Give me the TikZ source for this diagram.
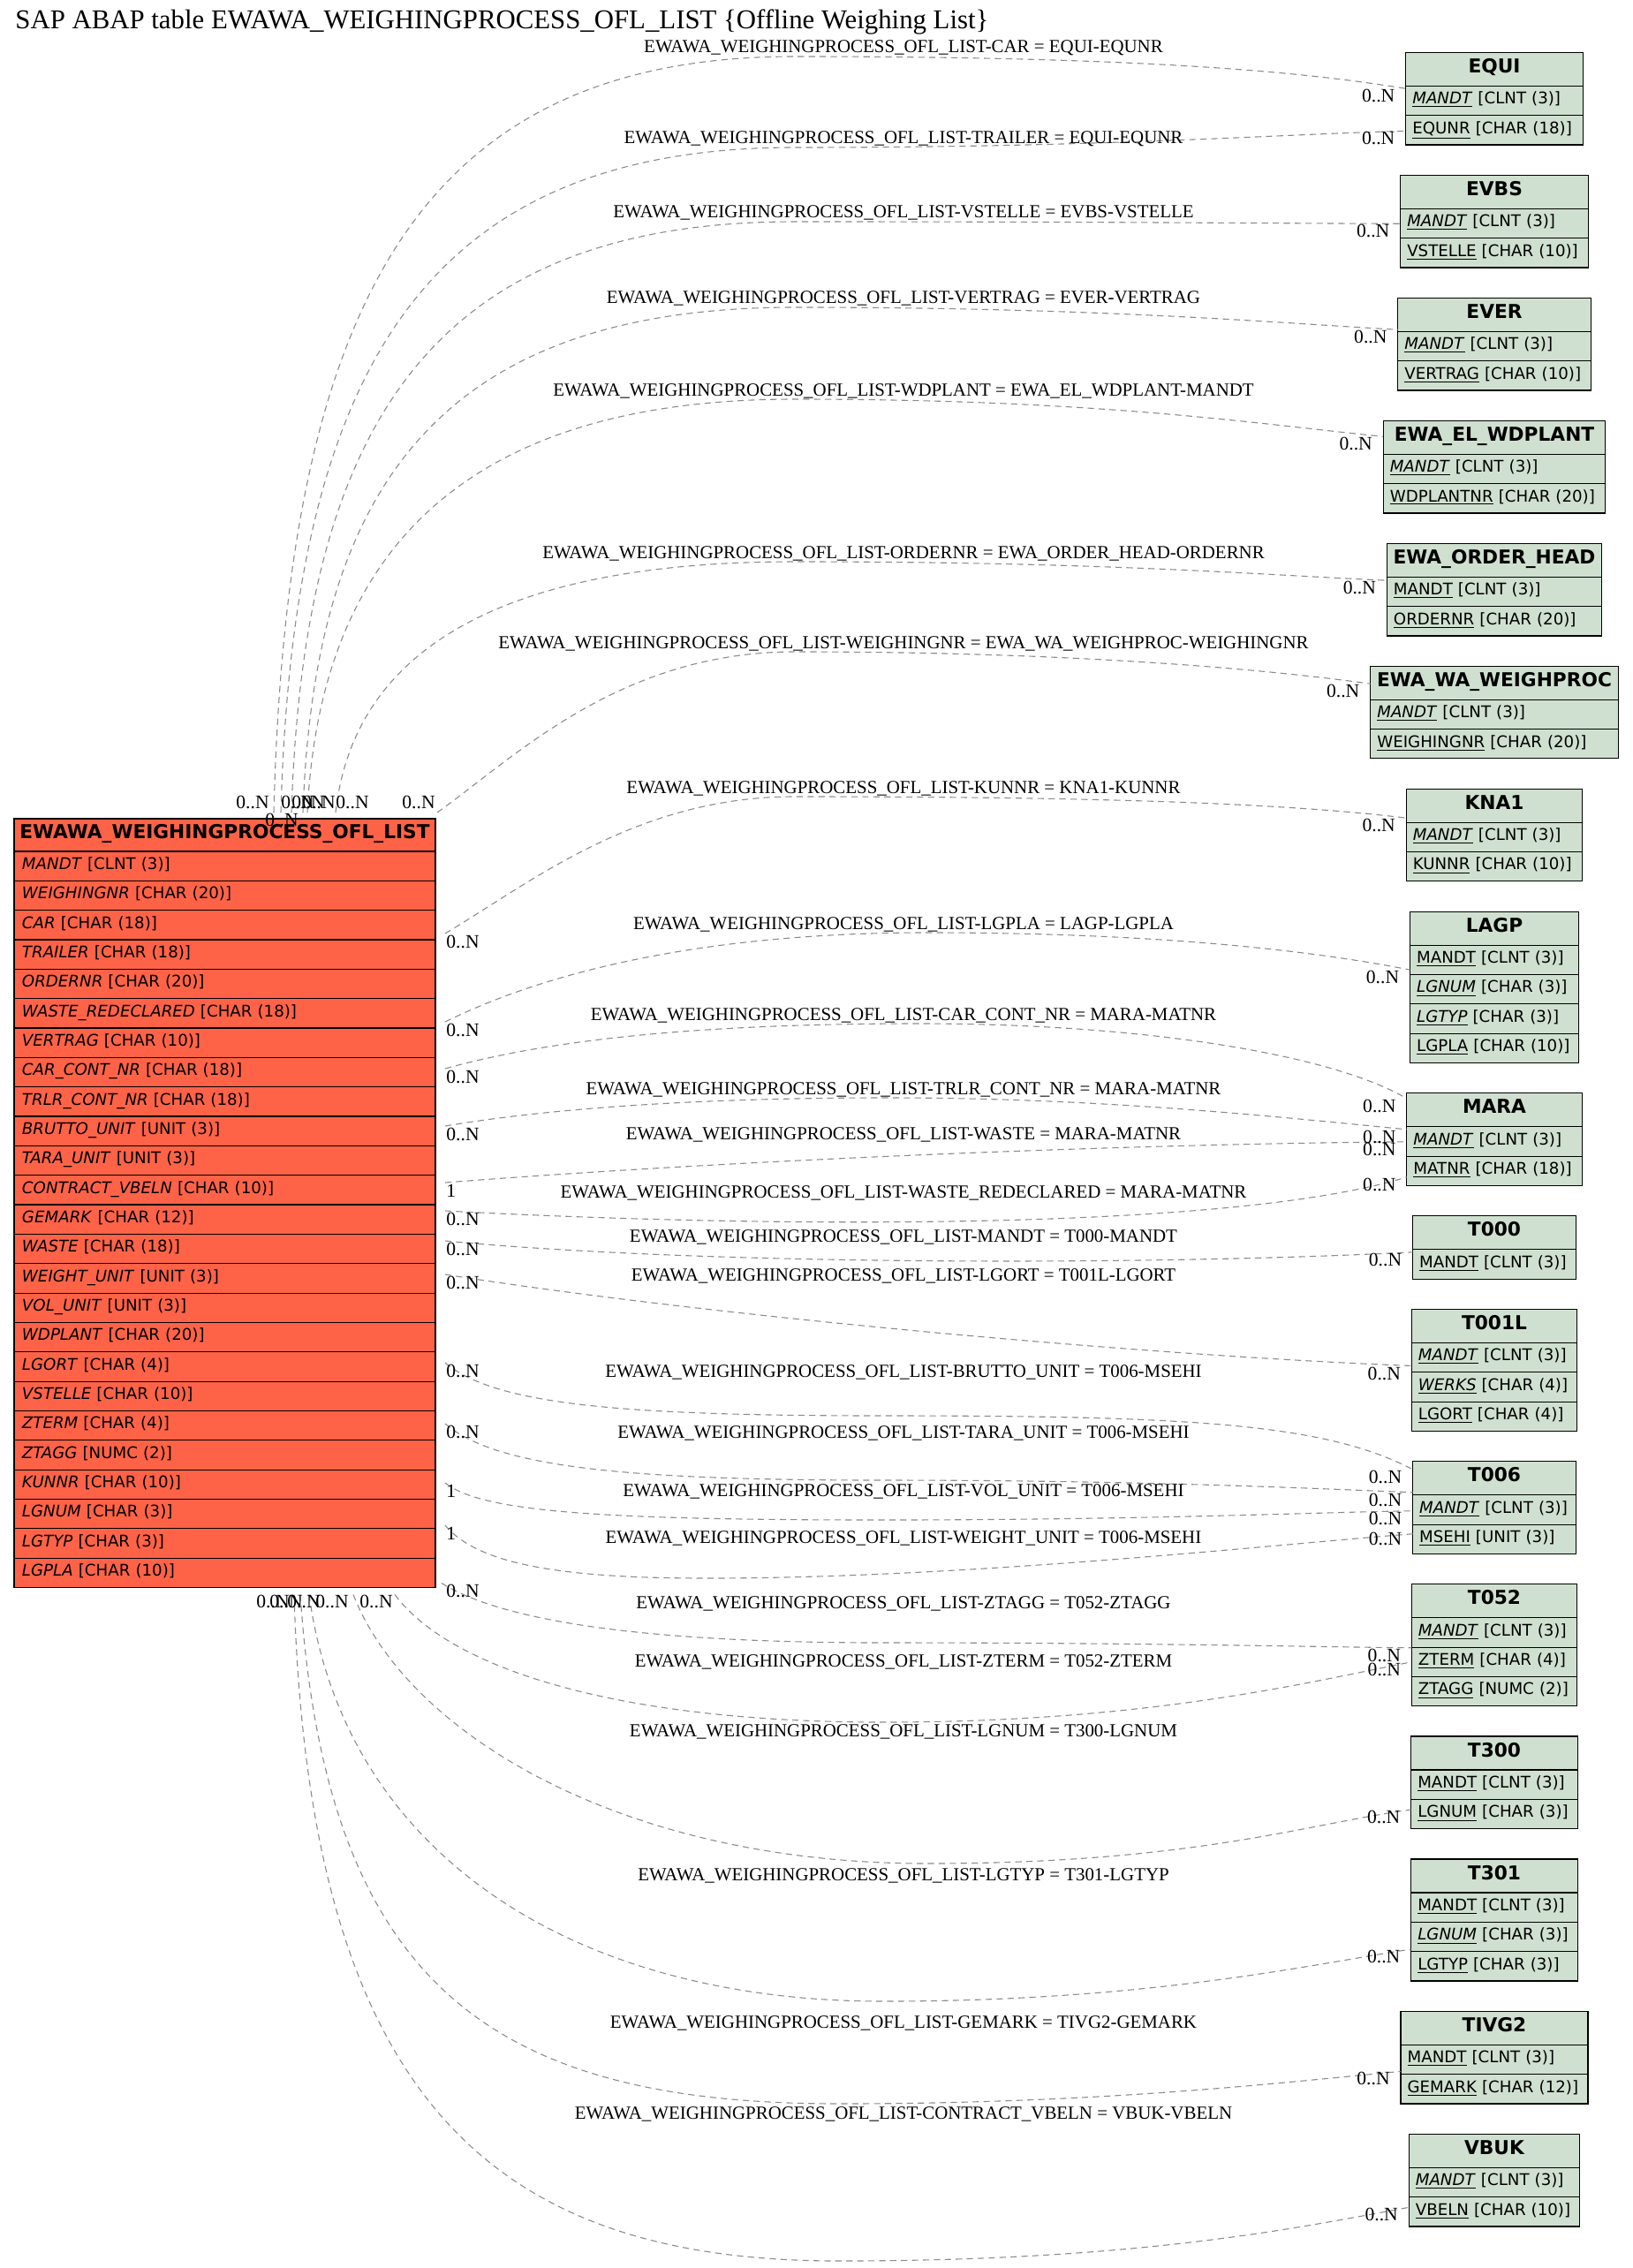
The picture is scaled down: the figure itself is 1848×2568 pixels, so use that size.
\documentclass[tikz,border=0pt]{standalone}
\usepackage{fontspec}
\setmainfont{Liberation Serif}
\newfontfamily\tabfont{DejaVu Sans}[ItalicFont={DejaVu Sans Oblique}, BoldFont={DejaVu Sans Bold}, BoldItalicFont={DejaVu Sans Bold Oblique}]
\usepackage{tikz}
\usetikzlibrary{calc, positioning}

\definecolor{mainred}{HTML}{FF6347}
\definecolor{sapgreen}{HTML}{D0E0D0}
\newcommand{\pk}[1]{\underline{#1}}
\newcommand{\srctab}{EWAWA\_WEIGHINGPROCESS\_OFL\_LIST}

\tikzset{
    thead/.style={rectangle, draw=black, line width=0.6pt, fill=sapgreen, outer sep=0pt, inner sep=0pt, minimum width=#1, minimum height=19pt, text height=8pt, text depth=4pt, font=\tabfont\bfseries\fontsize{10.85}{13}\selectfont},
    tfield/.style={rectangle, draw=black, line width=0.6pt, fill=sapgreen, outer sep=0pt, inner xsep=3.8pt, inner ysep=0pt, text width=#1, align=left, minimum height=16.67pt, text height=6.8pt, text depth=3pt, font=\tabfont\fontsize{9.1}{11}\selectfont},
    mhead/.style={thead=238.5pt, fill=mainred, minimum height=18.5pt},
    mfield/.style={tfield=229.5pt, fill=mainred, inner xsep=4.5pt},
    rel/.style={draw=gray!90, line width=0.55pt, dash pattern=on 3.6pt off 2.6pt},
    rlabel/.style={inner sep=0pt, text height=7pt, text depth=0pt, font=\fontsize{10.45}{12}\selectfont},
    card/.style={inner sep=0pt, text height=7.1pt, text depth=0pt, font=\fontsize{10.8}{12}\selectfont}
}

\begin{document}
\begin{tikzpicture}[x=0.5pt, y=-0.5pt]
    \useasboundingbox (0,0) rectangle (1848,2568);

    % Title
    \node[anchor=base west, inner sep=0pt, font=\fontsize{15.4}{18}\selectfont] (title) at (17,32.7) {SAP ABAP table EWAWA\_WEIGHINGPROCESS\_OFL\_LIST \{Offline Weighing List\}};

    % Main table
    \node[mhead, anchor=north west] (ofl-0) at (16,927) {EWAWA\_WEIGHINGPROCESS\_OFL\_LIST};
    \foreach \f/\t [count=\i, remember=\i as \j (initially 0)] in {MANDT/CLNT (3), WEIGHINGNR/CHAR (20), CAR/CHAR (18), TRAILER/CHAR (18), ORDERNR/CHAR (20), WASTE\_REDECLARED/CHAR (18), VERTRAG/CHAR (10), CAR\_CONT\_NR/CHAR (18), TRLR\_CONT\_NR/CHAR (18), BRUTTO\_UNIT/UNIT (3), TARA\_UNIT/UNIT (3), CONTRACT\_VBELN/CHAR (10), GEMARK/CHAR (12), WASTE/CHAR (18), WEIGHT\_UNIT/UNIT (3), VOL\_UNIT/UNIT (3), WDPLANT/CHAR (20), LGORT/CHAR (4), VSTELLE/CHAR (10), ZTERM/CHAR (4), ZTAGG/NUMC (2), KUNNR/CHAR (10), LGNUM/CHAR (3), LGTYP/CHAR (3), LGPLA/CHAR (10)}
        \node[mfield, below=0pt of ofl-\j] (ofl-\i) {\textit{\f} [\t]};

    % Check tables
    \node[thead=100.3pt, anchor=north] (equi) at (1692,59.3) {EQUI};
    \node[tfield=92.7pt, below=0pt of equi] (equi-1) {\pk{\textit{MANDT}} [CLNT (3)]};
    \node[tfield=92.7pt, below=0pt of equi-1] (equi-2) {\pk{EQUNR} [CHAR (18)]};

    \node[thead=106.35pt, below=17.15pt of equi-2] (evbs) {EVBS};
    \node[tfield=98.75pt, below=0pt of evbs] (evbs-1) {\pk{\textit{MANDT}} [CLNT (3)]};
    \node[tfield=98.75pt, below=0pt of evbs-1] (evbs-2) {\pk{VSTELLE} [CHAR (10)]};

    \node[thead=109.2pt, below=17.15pt of evbs-2] (ever) {EVER};
    \node[tfield=101.6pt, below=0pt of ever] (ever-1) {\pk{\textit{MANDT}} [CLNT (3)]};
    \node[tfield=101.6pt, below=0pt of ever-1] (ever-2) {\pk{VERTRAG} [CHAR (10)]};

    \node[thead=125.85pt, below=17.15pt of ever-2] (wdplant) {EWA\_EL\_WDPLANT};
    \node[tfield=118.25pt, below=0pt of wdplant] (wdplant-1) {\pk{\textit{MANDT}} [CLNT (3)]};
    \node[tfield=118.25pt, below=0pt of wdplant-1] (wdplant-2) {\pk{WDPLANTNR} [CHAR (20)]};

    \node[thead=121.65pt, below=17.15pt of wdplant-2] (ohead) {EWA\_ORDER\_HEAD};
    \node[tfield=114.05pt, below=0pt of ohead] (ohead-1) {\pk{MANDT} [CLNT (3)]};
    \node[tfield=114.05pt, below=0pt of ohead-1] (ohead-2) {\pk{ORDERNR} [CHAR (20)]};

    \node[thead=140.3pt, below=17.15pt of ohead-2] (wproc) {EWA\_WA\_WEIGHPROC};
    \node[tfield=132.7pt, below=0pt of wproc] (wproc-1) {\pk{\textit{MANDT}} [CLNT (3)]};
    \node[tfield=132.7pt, below=0pt of wproc-1] (wproc-2) {\pk{WEIGHINGNR} [CHAR (20)]};

    \node[thead=99.8pt, below=17.15pt of wproc-2] (kna1) {KNA1};
    \node[tfield=92.2pt, below=0pt of kna1] (kna1-1) {\pk{\textit{MANDT}} [CLNT (3)]};
    \node[tfield=92.2pt, below=0pt of kna1-1] (kna1-2) {\pk{KUNNR} [CHAR (10)]};

    \node[thead=95.5pt, below=17.15pt of kna1-2] (lagp) {LAGP};
    \node[tfield=87.9pt, below=0pt of lagp] (lagp-1) {\pk{MANDT} [CLNT (3)]};
    \node[tfield=87.9pt, below=0pt of lagp-1] (lagp-2) {\pk{\textit{LGNUM}} [CHAR (3)]};
    \node[tfield=87.9pt, below=0pt of lagp-2] (lagp-3) {\pk{\textit{LGTYP}} [CHAR (3)]};
    \node[tfield=87.9pt, below=0pt of lagp-3] (lagp-4) {\pk{LGPLA} [CHAR (10)]};

    \node[thead=99.2pt, below=17.15pt of lagp-4] (mara) {MARA};
    \node[tfield=91.6pt, below=0pt of mara] (mara-1) {\pk{\textit{MANDT}} [CLNT (3)]};
    \node[tfield=91.6pt, below=0pt of mara-1] (mara-2) {\pk{MATNR} [CHAR~(18)]};

    \node[thead=92.5pt, below=17.15pt of mara-2] (t000) {T000};
    \node[tfield=84.9pt, below=0pt of t000] (t000-1) {\pk{MANDT} [CLNT (3)]};

    \node[thead=93.7pt, below=17.15pt of t000-1] (t001l) {T001L};
    \node[tfield=86.1pt, below=0pt of t001l] (t001l-1) {\pk{\textit{MANDT}} [CLNT (3)]};
    \node[tfield=86.1pt, below=0pt of t001l-1] (t001l-2) {\pk{\textit{WERKS}} [CHAR (4)]};
    \node[tfield=86.1pt, below=0pt of t001l-2] (t001l-3) {\pk{LGORT} [CHAR (4)]};

    \node[thead=92.5pt, below=17.15pt of t001l-3] (t006) {T006};
    \node[tfield=84.9pt, below=0pt of t006] (t006-1) {\pk{\textit{MANDT}} [CLNT (3)]};
    \node[tfield=84.9pt, below=0pt of t006-1] (t006-2) {\pk{MSEHI} [UNIT (3)]};

    \node[thead=93.7pt, below=17.15pt of t006-2] (t052) {T052};
    \node[tfield=86.1pt, below=0pt of t052] (t052-1) {\pk{\textit{MANDT}} [CLNT (3)]};
    \node[tfield=86.1pt, below=0pt of t052-1] (t052-2) {\pk{ZTERM} [CHAR (4)]};
    \node[tfield=86.1pt, below=0pt of t052-2] (t052-3) {\pk{ZTAGG} [NUMC (2)]};

    \node[thead=94.35pt, below=17.15pt of t052-3] (t300) {T300};
    \node[tfield=86.75pt, below=0pt of t300] (t300-1) {\pk{MANDT} [CLNT (3)]};
    \node[tfield=86.75pt, below=0pt of t300-1] (t300-2) {\pk{LGNUM} [CHAR (3)]};

    \node[thead=94.35pt, below=17.15pt of t300-2] (t301) {T301};
    \node[tfield=86.75pt, below=0pt of t301] (t301-1) {\pk{MANDT} [CLNT (3)]};
    \node[tfield=86.75pt, below=0pt of t301-1] (t301-2) {\pk{\textit{LGNUM}} [CHAR (3)]};
    \node[tfield=86.75pt, below=0pt of t301-2] (t301-3) {\pk{LGTYP} [CHAR (3)]};

    \node[thead=106pt, below=17.15pt of t301-3] (tivg2) {TIVG2};
    \node[tfield=98.4pt, below=0pt of tivg2] (tivg2-1) {\pk{MANDT} [CLNT (3)]};
    \node[tfield=98.4pt, below=0pt of tivg2-1] (tivg2-2) {\pk{GEMARK} [CHAR (12)]};

    \node[thead=96.8pt, below=17.15pt of tivg2-2] (vbuk) {VBUK};
    \node[tfield=89.2pt, below=0pt of vbuk] (vbuk-1) {\pk{\textit{MANDT}} [CLNT (3)]};
    \node[tfield=89.2pt, below=0pt of vbuk-1] (vbuk-2) {\pk{VBELN} [CHAR (10)]};

    % Relations leaving the top
    \draw[rel] ($(ofl-0.north west)+(294,-7)$) .. controls (325,350) and (470,64) .. (900,64) .. controls (1300,64) and (1480,82) .. ($(equi.north west)+(0,41)$);
    \draw[rel] ($(ofl-0.north west)+(302,-7)$) .. controls (332,420) and (480,167) .. (900,167) .. controls (1250,167) and (1450,152) .. ($(equi.north west)+(0,89)$);
    \draw[rel] ($(ofl-0.north west)+(314,-7)$) .. controls (344,480) and (490,251) .. (900,251) .. controls (1250,251) and (1450,253) .. ($(evbs.north west)+(0,55)$);
    \draw[rel] ($(ofl-0.north west)+(327,-7)$) .. controls (356,550) and (500,348) .. (900,348) .. controls (1250,348) and (1450,366) .. ($(ever.north west)+(0,36)$);
    \draw[rel] ($(ofl-0.north west)+(332,-7)$) .. controls (362,630) and (520,452) .. (900,452) .. controls (1250,452) and (1430,481) .. ($(wdplant.north west)+(0,18)$);
    \draw[rel] ($(ofl-0.north west)+(364,-7)$) .. controls (400,740) and (560,636) .. (900,636) .. controls (1250,636) and (1430,651) .. ($(ohead.north west)+(0,42)$);
    \draw[rel] ($(ofl-0.north west)+(479,-7)$) .. controls (580,860) and (700,738) .. (900,738) .. controls (1200,738) and (1420,756) .. ($(wproc.north west)+(0,20)$);

    % Relations leaving the right side
    \draw[rel] ($(ofl-0.north east)+(11,130)$) .. controls (600,1000) and (720,902) .. (900,902) .. controls (1250,902) and (1460,910) .. ($(kna1.north west)+(0,33)$);
    \draw[rel] ($(ofl-0.north east)+(11,230)$) .. controls (640,1090) and (830,1056) .. (1050,1056) .. controls (1300,1056) and (1480,1075) .. ($(lagp.north west)+(0,66)$);
    \draw[rel] ($(ofl-0.north east)+(11,283)$) .. controls (640,1172) and (830,1159) .. (1041,1159) .. controls (1300,1159) and (1510,1195) .. ($(mara.north west)+(0,6)$);
    \draw[rel] ($(ofl-0.north east)+(11,348)$) .. controls (640,1252) and (820,1243) .. (1006,1243) .. controls (1250,1243) and (1450,1265) .. ($(mara.north west)+(0,41)$);
    \draw[rel] ($(ofl-0.north east)+(11,412)$) .. controls (850,1312) and (1300,1295) .. ($(mara.north west)+(0,55)$);
    \draw[rel] ($(ofl-0.north east)+(11,444)$) .. controls (900,1392) and (1400,1392) .. ($(mara.north west)+(0,95)$);
    \draw[rel] ($(ofl-0.north east)+(11,478)$) .. controls (800,1433) and (1300,1433) .. ($(t000.north west)+(0,41)$);
    \draw[rel] ($(ofl-0.north east)+(11,516)$) .. controls (800,1490) and (1300,1535) .. ($(t001l.north west)+(0,64)$);
    \draw[rel] ($(ofl-0.north east)+(11,616)$) .. controls (560,1590) and (700,1603) .. (1000,1603) .. controls (1350,1603) and (1500,1612) .. ($(t006.north west)+(0,9)$);
    \draw[rel] ($(ofl-0.north east)+(11,685)$) .. controls (560,1660) and (700,1676) .. (1000,1676) .. controls (1300,1676) and (1500,1686) .. ($(t006.north west)+(0,35)$);
    \draw[rel] ($(ofl-0.north east)+(11,752)$) .. controls (545,1712) and (680,1721) .. (1000,1721) .. controls (1300,1721) and (1500,1712) .. ($(t006.north west)+(0,56)$);
    \draw[rel] ($(ofl-0.north east)+(11,800)$) .. controls (540,1770) and (630,1787) .. (800,1787) .. controls (1100,1787) and (1450,1748) .. ($(t006.north west)+(0,82)$);
    \draw[rel] ($(ofl-25.south east)+(7,-5)$) .. controls (560,1830) and (700,1860) .. (1000,1860) .. controls (1300,1860) and (1500,1865) .. ($(t052.north west)+(0,72)$);

    % Relations leaving the bottom
    \draw[rel] ($(ofl-25.south west)+(431,8)$) .. controls (510,1890) and (700,1950) .. (1000,1950) .. controls (1300,1950) and (1480,1905) .. ($(t052.north west)+(0,88)$);
    \draw[rel] ($(ofl-25.south west)+(384,8)$) .. controls (460,1960) and (700,2110) .. (1050,2110) .. controls (1350,2110) and (1480,2065) .. ($(t300.north west)+(0,83)$);
    \draw[rel] ($(ofl-25.south west)+(334,8)$) .. controls (390,2100) and (650,2266) .. (1000,2266) .. controls (1300,2266) and (1480,2225) .. ($(t301.north west)+(0,102)$);
    \draw[rel] ($(ofl-25.south west)+(324,8)$) .. controls (370,2250) and (560,2382) .. (950,2382) .. controls (1250,2382) and (1450,2358) .. ($(tivg2.north west)+(0,68)$);
    \draw[rel] ($(ofl-25.south west)+(317,8)$) .. controls (350,2380) and (560,2560) .. (950,2560) .. controls (1300,2560) and (1480,2520) .. ($(vbuk.north west)+(0,83)$);

    % Relation names
    \node[rlabel] (l-car) at (1023,53) {\srctab-CAR = EQUI-EQUNR};
    \node[rlabel] (l-trailer) at (1023,156) {\srctab-TRAILER = EQUI-EQUNR};
    \node[rlabel] (l-vstelle) at (1023,240) {\srctab-VSTELLE = EVBS-VSTELLE};
    \node[rlabel] (l-vertrag) at (1023,337) {\srctab-VERTRAG = EVER-VERTRAG};
    \node[rlabel] (l-wdplant) at (1023,441) {\srctab-WDPLANT = EWA\_EL\_WDPLANT-MANDT};
    \node[rlabel] (l-ordernr) at (1023,625) {\srctab-ORDERNR = EWA\_ORDER\_HEAD-ORDERNR};
    \node[rlabel] (l-weighingnr) at (1023,727) {\srctab-WEIGHINGNR = EWA\_WA\_WEIGHPROC-WEIGHINGNR};
    \node[rlabel] (l-kunnr) at (1023,891) {\srctab-KUNNR = KNA1-KUNNR};
    \node[rlabel] (l-lgpla) at (1023,1045) {\srctab-LGPLA = LAGP-LGPLA};
    \node[rlabel] (l-carcont) at (1023,1148) {\srctab-CAR\_CONT\_NR = MARA-MATNR};
    \node[rlabel] (l-trlrcont) at (1023,1232) {\srctab-TRLR\_CONT\_NR = MARA-MATNR};
    \node[rlabel] (l-waste) at (1023,1283) {\srctab-WASTE = MARA-MATNR};
    \node[rlabel] (l-wasteredecl) at (1023,1349) {\srctab-WASTE\_REDECLARED = MARA-MATNR};
    \node[rlabel] (l-mandt) at (1023,1399) {\srctab-MANDT = T000-MANDT};
    \node[rlabel] (l-lgort) at (1023,1443) {\srctab-LGORT = T001L-LGORT};
    \node[rlabel] (l-brutto) at (1023,1552) {\srctab-BRUTTO\_UNIT = T006-MSEHI};
    \node[rlabel] (l-tara) at (1023,1621) {\srctab-TARA\_UNIT = T006-MSEHI};
    \node[rlabel] (l-vol) at (1023,1687) {\srctab-VOL\_UNIT = T006-MSEHI};
    \node[rlabel] (l-weight) at (1023,1740) {\srctab-WEIGHT\_UNIT = T006-MSEHI};
    \node[rlabel] (l-ztagg) at (1023,1814) {\srctab-ZTAGG = T052-ZTAGG};
    \node[rlabel] (l-zterm) at (1023,1880) {\srctab-ZTERM = T052-ZTERM};
    \node[rlabel] (l-lgnum) at (1023,1959) {\srctab-LGNUM = T300-LGNUM};
    \node[rlabel] (l-lgtyp) at (1023,2122) {\srctab-LGTYP = T301-LGTYP};
    \node[rlabel] (l-gemark) at (1023,2289) {\srctab-GEMARK = TIVG2-GEMARK};
    \node[rlabel] (l-vbeln) at (1023,2392) {\srctab-CONTRACT\_VBELN = VBUK-VBELN};

    % Cardinalities at the main table
    \node[card, anchor=north west] (m-car) at ($(ofl-0.north west)+(251,-26)$) {0..N};
    \node[card, anchor=north west] (m-trailer) at ($(ofl-0.north west)+(284,-6)$) {0..N};
    \node[card, anchor=north west] (m-vstelle) at ($(ofl-0.north west)+(302,-26)$) {0..N};
    \node[card, anchor=north west] (m-vertrag) at ($(ofl-0.north west)+(314,-26)$) {0..N};
    \node[card, anchor=north west] (m-wdplant) at ($(ofl-0.north west)+(326,-26)$) {0..N};
    \node[card, anchor=north west] (m-ordernr) at ($(ofl-0.north west)+(364,-26)$) {0..N};
    \node[card, anchor=north west] (m-weighingnr) at ($(ofl-0.north west)+(439,-26)$) {0..N};
    \node[card, anchor=north west] (m-kunnr) at ($(ofl-0.north east)+(12,132)$) {0..N};
    \node[card, anchor=north west] (m-lgpla) at ($(ofl-0.north east)+(12,232)$) {0..N};
    \node[card, anchor=north west] (m-carcont) at ($(ofl-0.north east)+(12,285)$) {0..N};
    \node[card, anchor=north west] (m-trlrcont) at ($(ofl-0.north east)+(12,350)$) {0..N};
    \node[card, anchor=north west] (m-waste) at ($(ofl-0.north east)+(12,414)$) {1};
    \node[card, anchor=north west] (m-wasteredecl) at ($(ofl-0.north east)+(12,446)$) {0..N};
    \node[card, anchor=north west] (m-mandt) at ($(ofl-0.north east)+(12,480)$) {0..N};
    \node[card, anchor=north west] (m-lgort) at ($(ofl-0.north east)+(12,518)$) {0..N};
    \node[card, anchor=north west] (m-brutto) at ($(ofl-0.north east)+(12,618)$) {0..N};
    \node[card, anchor=north west] (m-tara) at ($(ofl-0.north east)+(12,687)$) {0..N};
    \node[card, anchor=north west] (m-vol) at ($(ofl-0.north east)+(12,754)$) {1};
    \node[card, anchor=north west] (m-weight) at ($(ofl-0.north east)+(12,802)$) {1};
    \node[card, anchor=north west] (m-ztagg) at ($(ofl-25.south east)+(12,-4)$) {0..N};
    \node[card, anchor=north west] (m-vbeln) at ($(ofl-25.south west)+(274,8)$) {0..N};
    \node[card, anchor=north west] (m-gemark) at ($(ofl-25.south west)+(289,8)$) {0..N};
    \node[card, anchor=north west] (m-lgtyp) at ($(ofl-25.south west)+(309,8)$) {0..N};
    \node[card, anchor=north west] (m-lgnum) at ($(ofl-25.south west)+(341,8)$) {0..N};
    \node[card, anchor=north west] (m-zterm) at ($(ofl-25.south west)+(391,8)$) {0..N};

    % Cardinalities at the check tables
    \node[card, anchor=north east] (t-car) at ($(equi.north west)+(-12,42)$) {0..N};
    \node[card, anchor=north east] (t-trailer) at ($(equi.north west)+(-12,90)$) {0..N};
    \node[card, anchor=north east] (t-vstelle) at ($(evbs.north west)+(-12,56)$) {0..N};
    \node[card, anchor=north east] (t-vertrag) at ($(ever.north west)+(-12,37)$) {0..N};
    \node[card, anchor=north east] (t-wdplant) at ($(wdplant.north west)+(-12,19)$) {0..N};
    \node[card, anchor=north east] (t-ordernr) at ($(ohead.north west)+(-12,43)$) {0..N};
    \node[card, anchor=north east] (t-weighingnr) at ($(wproc.north west)+(-12,21)$) {0..N};
    \node[card, anchor=north east] (t-kunnr) at ($(kna1.north west)+(-12,34)$) {0..N};
    \node[card, anchor=north east] (t-lgpla) at ($(lagp.north west)+(-12,67)$) {0..N};
    \node[card, anchor=north east] (t-carcont) at ($(mara.north west)+(-12,7)$) {0..N};
    \node[card, anchor=north east] (t-trlrcont) at ($(mara.north west)+(-12,42)$) {0..N};
    \node[card, anchor=north east] (t-waste) at ($(mara.north west)+(-12,56)$) {0..N};
    \node[card, anchor=north east] (t-wasteredecl) at ($(mara.north west)+(-12,96)$) {0..N};
    \node[card, anchor=north east] (t-mandt) at ($(t000.north west)+(-12,42)$) {0..N};
    \node[card, anchor=north east] (t-lgort) at ($(t001l.north west)+(-12,65)$) {0..N};
    \node[card, anchor=north east] (t-brutto) at ($(t006.north west)+(-12,10)$) {0..N};
    \node[card, anchor=north east] (t-tara) at ($(t006.north west)+(-12,36)$) {0..N};
    \node[card, anchor=north east] (t-vol) at ($(t006.north west)+(-12,57)$) {0..N};
    \node[card, anchor=north east] (t-weight) at ($(t006.north west)+(-12,80)$) {0..N};
    \node[card, anchor=north east] (t-ztagg) at ($(t052.north west)+(-12,73)$) {0..N};
    \node[card, anchor=north east] (t-zterm) at ($(t052.north west)+(-12,89)$) {0..N};
    \node[card, anchor=north east] (t-lgnum) at ($(t300.north west)+(-12,84)$) {0..N};
    \node[card, anchor=north east] (t-lgtyp) at ($(t301.north west)+(-12,103)$) {0..N};
    \node[card, anchor=north east] (t-gemark) at ($(tivg2.north west)+(-12,69)$) {0..N};
    \node[card, anchor=north east] (t-vbeln) at ($(vbuk.north west)+(-12,84)$) {0..N};

\end{tikzpicture}
\end{document}
